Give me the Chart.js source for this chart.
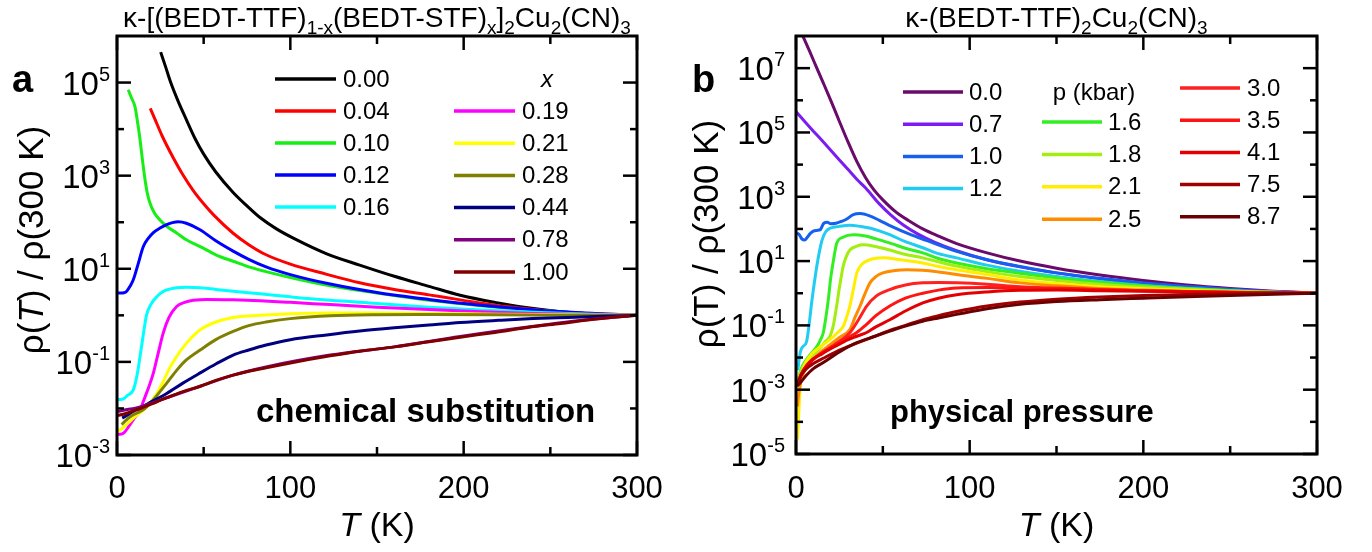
<!DOCTYPE html>
<html>
<head>
<meta charset="utf-8">
<script src="https://cdn.jsdelivr.net/npm/chart.js@4.4.0/dist/chart.umd.min.js"></script>
<style>
  html, body { margin: 0; padding: 0; background: #fff; }
  #wrap { position: relative; width: 1372px; height: 552px; overflow: hidden; }
  #wrap canvas { position: absolute; top: 0; }
</style>
</head>
<body>
<div id="wrap">
  <canvas id="chartA" width="690" height="552" style="left:0px"></canvas>
  <canvas id="chartB" width="682" height="552" style="left:690px"></canvas>
</div>
<script>
// ---------- panel a : chemical substitution, x ----------
var labelsA = ['0.00', '0.04', '0.10', '0.12', '0.16', '0.19', '0.21', '0.28', '0.44', '0.78', '1.00'];

var T_a000 = [25.2, 28, 31, 35, 40, 45, 50, 57, 67, 75, 82.5, 92, 102, 121, 140, 160, 180, 198, 218, 237, 256, 275, 300];
var R_a000 = [4.5e5, 2.2e5, 1.0e5, 4.2e4, 1.6e4, 6.3e3, 2.9e3, 1.2e3, 436, 224, 126, 72, 45, 21, 12, 6.9, 4.2, 2.7, 1.9, 1.45, 1.2, 1.07, 1];
var T_a004 = [19.2, 22, 26, 32.5, 38, 44, 50, 56, 67, 76, 86, 100, 121, 140, 160, 180, 198, 218, 237, 256, 275, 300];
var R_a004 = [2.8e4, 1.6e4, 7.2e3, 2.4e3, 1.05e3, 480, 250, 140, 58, 33, 20, 12.6, 7.6, 5.0, 3.6, 2.75, 2.15, 1.65, 1.38, 1.18, 1.07, 1];
var T_a010 = [6.5, 8, 10.4, 12, 13.3, 14.8, 16.2, 17.5, 19, 21.5, 24.8, 29, 34.4, 40, 48, 57, 67, 76, 86, 100, 123, 150, 180, 210, 240, 270, 300];
var R_a010 = [7e4, 5e4, 3e4, 1.3e4, 5.9e3, 2e3, 810, 420, 260, 160, 112, 80, 59, 42, 30, 20, 14.5, 11, 8.7, 6.5, 4.3, 3.0, 2.1, 1.6, 1.3, 1.1, 1];
var T_a012 = [0, 2, 4, 5.6, 7.5, 9.4, 12, 15.2, 18, 21, 24.8, 29, 32, 35.4, 40, 47.9, 57, 67, 76, 86, 100, 123, 150, 180, 210, 240, 270, 300];
var R_a012 = [3.0, 3.0, 3.05, 3.3, 4.2, 5.8, 12, 30, 45, 60, 75, 90, 98, 102, 95, 69, 40, 24, 16, 11, 7.5, 4.7, 3.1, 2.2, 1.65, 1.32, 1.12, 1];
var T_a016 = [0, 2, 3.6, 6, 9.4, 11.5, 13.3, 15, 17, 19.5, 22.9, 27, 34.4, 40, 48, 57, 67, 82.5, 100, 123, 150, 180, 210, 240, 270, 300];
var R_a016 = [0.0155, 0.0155, 0.016, 0.019, 0.025, 0.05, 0.13, 0.35, 1.0, 1.7, 2.5, 3.3, 3.9, 4.0, 3.9, 3.6, 3.3, 2.9, 2.5, 2.1, 1.8, 1.5, 1.3, 1.17, 1.07, 1];
var T_a019 = [0, 2, 4, 7, 10, 13.3, 16, 18.5, 21, 23.5, 26.7, 30, 34.4, 39, 44, 52, 67, 82.5, 100, 123, 150, 180, 210, 240, 270, 300];
var R_a019 = [0.0028, 0.0028, 0.003, 0.0042, 0.0062, 0.0093, 0.017, 0.03, 0.058, 0.14, 0.42, 0.9, 1.55, 1.9, 2.1, 2.2, 2.15, 2.05, 1.9, 1.7, 1.5, 1.33, 1.2, 1.1, 1.04, 1];
var T_a021 = [0, 2, 4, 8, 12, 15, 19, 23, 27, 30, 34.4, 40, 48, 57, 67, 82.5, 100, 123, 150, 180, 220, 260, 300];
var R_a021 = [0.0033, 0.0035, 0.004, 0.0055, 0.0075, 0.009, 0.013, 0.021, 0.04, 0.07, 0.13, 0.25, 0.49, 0.72, 0.9, 1.0, 1.08, 1.12, 1.12, 1.1, 1.06, 1.03, 1];
var T_a028 = [2.7, 5, 8, 11, 15, 20, 28.7, 35, 40, 48, 57, 67, 76, 86, 100, 123, 150, 180, 220, 260, 300];
var R_a028 = [0.0045, 0.0055, 0.0068, 0.0078, 0.0093, 0.014, 0.035, 0.07, 0.11, 0.18, 0.3, 0.45, 0.6, 0.72, 0.85, 0.98, 1.03, 1.04, 1.03, 1.01, 1];
var T_a044 = [3, 6, 10, 15, 20, 28.7, 38, 48, 57, 67, 76, 86, 100, 121, 140, 160, 180, 198, 220, 240, 260, 280, 300];
var R_a044 = [0.0062, 0.0072, 0.009, 0.011, 0.014, 0.021, 0.035, 0.058, 0.09, 0.14, 0.18, 0.23, 0.3, 0.38, 0.46, 0.54, 0.62, 0.7, 0.78, 0.85, 0.9, 0.95, 1];
var T_a078 = [0, 3, 6, 10, 15, 20, 28.7, 48, 67, 86, 123, 160, 198, 237, 275, 300];
var R_a078 = [0.0085, 0.009, 0.0095, 0.01, 0.0112, 0.013, 0.017, 0.03, 0.052, 0.078, 0.14, 0.21, 0.35, 0.56, 0.83, 1];
var T_a100 = [0, 3, 6, 10, 15, 20, 28.7, 38, 48, 57, 67, 76, 86, 100, 123, 140, 160, 180, 198, 218, 237, 256, 275, 300];
var R_a100 = [0.007, 0.0074, 0.008, 0.009, 0.0105, 0.0125, 0.017, 0.023, 0.03, 0.04, 0.052, 0.063, 0.075, 0.095, 0.135, 0.17, 0.21, 0.27, 0.34, 0.43, 0.55, 0.67, 0.82, 1];

// ---------- panel b : physical pressure, p (kbar) ----------
var labelsB = ['0.0', '0.7', '1.0', '1.2', '1.6', '1.8', '2.1', '2.5', '3.0', '3.5', '4.1', '7.5', '8.7'];

var T_b00 = [3.5, 8, 12, 16, 20, 25, 30, 35, 40, 45, 50, 58, 65, 73, 82, 92.5, 110, 129, 150, 175, 200, 225, 250, 275, 300];
var R_b00 = [1.12e8, 3.2e7, 1e7, 3.2e6, 1e6, 2.2e5, 5e4, 1.26e4, 4e3, 1.6e3, 800, 320, 180, 100, 60, 35, 18, 10, 6, 3.7, 2.5, 1.8, 1.4, 1.15, 1];
var T_b07 = [0, 5, 10, 15, 20, 25, 30, 35, 40, 48, 55, 62, 70, 80, 92.5, 110, 129, 150, 175, 200, 225, 250, 275, 300];
var R_b07 = [4.4e5, 2.2e5, 1.1e5, 5.6e4, 2.8e4, 1.4e4, 7e3, 3.5e3, 1.9e3, 600, 260, 130, 70, 38, 21, 11, 6.6, 4.3, 2.8, 2.0, 1.6, 1.3, 1.12, 1];
var T_b10 = [0.5, 2, 3.5, 5, 6.5, 8, 10, 12, 14, 16, 18, 20, 23, 26, 29, 33, 37, 42, 48, 55, 65, 75, 92.5, 110, 129, 150, 175, 200, 230, 260, 300];
var R_b10 = [75, 65, 48, 45, 55, 70, 85, 90, 95, 150, 160, 145, 150, 170, 200, 280, 300, 260, 185, 120, 70, 44, 20, 11, 6.8, 4.3, 2.9, 2.1, 1.55, 1.22, 1];
var T_b12 = [1, 2.5, 4, 6, 7.5, 9, 10.5, 12, 13.5, 15, 17, 19.6, 25, 31, 37, 43, 54, 63, 73, 82, 92.5, 110, 129, 150, 175, 200, 230, 260, 300];
var R_b12 = [0.004, 0.015, 0.022, 0.03, 0.1, 0.5, 2, 7, 20, 45, 80, 105, 120, 130, 120, 105, 66, 40, 26, 17, 12.6, 7.5, 4.8, 3.3, 2.3, 1.75, 1.38, 1.15, 1];
var T_b16 = [1, 3, 6, 9, 12, 14, 15.7, 17, 18.6, 20, 21.5, 23.4, 27, 33, 40, 46.5, 55, 63, 73, 82, 92.5, 110, 129, 150, 175, 200, 230, 260, 300];
var R_b16 = [0.0018, 0.0045, 0.0087, 0.014, 0.022, 0.035, 0.059, 0.15, 0.63, 3, 10, 35, 55, 66, 60, 48, 35, 25, 18, 12, 8.7, 5.8, 4.2, 3.0, 2.2, 1.7, 1.35, 1.14, 1];
var T_b18 = [1, 3, 6, 10, 14, 17, 19.6, 21.5, 23.4, 25, 27.2, 29, 31, 35, 38.7, 45, 54, 63, 73, 82, 92.5, 110, 129, 150, 175, 200, 230, 260, 300];
var R_b18 = [0.0016, 0.004, 0.0075, 0.012, 0.02, 0.032, 0.046, 0.1, 0.4, 1.5, 7, 14, 22, 29, 32, 29, 22, 16, 12.6, 9.5, 7, 4.7, 3.3, 2.5, 1.9, 1.55, 1.3, 1.12, 1];
var T_b21 = [0.8, 1.5, 2.3, 4, 8, 13, 19.6, 24, 27.2, 29, 31, 33, 35, 38, 40.7, 45, 50, 60, 73, 82, 92.5, 110, 129, 150, 175, 200, 230, 260, 300];
var R_b21 = [2.8e-5, 1.5e-4, 0.001, 0.004, 0.011, 0.02, 0.036, 0.06, 0.094, 0.17, 0.4, 1.3, 4.3, 8, 10, 12, 12.6, 11, 8.7, 6.8, 5.4, 3.8, 2.6, 2.0, 1.6, 1.38, 1.2, 1.08, 1];
var T_b25 = [0.8, 1.5, 2.5, 5, 10, 15, 19.6, 25, 31, 34, 36.9, 39.5, 42.6, 46, 50, 57, 63.7, 73, 82, 92.5, 110, 129, 150, 175, 200, 230, 260, 300];
var R_b25 = [3e-4, 7e-4, 0.0015, 0.004, 0.009, 0.016, 0.025, 0.042, 0.074, 0.18, 0.4, 0.9, 2.1, 3.3, 4.3, 5.1, 5.4, 5.2, 4.6, 3.8, 2.9, 2.1, 1.7, 1.4, 1.25, 1.13, 1.05, 1];
var T_b30 = [1, 3, 6, 10, 15, 20, 25, 31, 36, 40.7, 46, 54, 63, 73, 82, 92.5, 110, 129, 150, 175, 200, 230, 260, 300];
var R_b30 = [0.0015, 0.003, 0.0055, 0.009, 0.014, 0.021, 0.032, 0.059, 0.15, 0.4, 0.8, 1.3, 1.8, 2.1, 2.15, 2.1, 1.9, 1.6, 1.45, 1.3, 1.2, 1.12, 1.05, 1];
var T_b35 = [1, 3, 6, 10, 15, 20, 25, 30, 35, 40, 46, 54, 63, 73, 82, 92.5, 110, 129, 150, 175, 200, 230, 260, 300];
var R_b35 = [0.0015, 0.003, 0.0055, 0.009, 0.014, 0.02, 0.029, 0.042, 0.06, 0.1, 0.2, 0.4, 0.7, 1.0, 1.25, 1.45, 1.5, 1.45, 1.38, 1.28, 1.2, 1.12, 1.05, 1];
var T_b41 = [1, 3, 6, 10, 15, 20, 25, 30, 35, 40.7, 46, 54, 63, 73, 82, 92.5, 110, 129, 150, 175, 200, 230, 260, 300];
var R_b41 = [0.0015, 0.003, 0.0055, 0.009, 0.013, 0.019, 0.026, 0.036, 0.046, 0.06, 0.09, 0.15, 0.28, 0.5, 0.7, 0.9, 1.1, 1.23, 1.25, 1.2, 1.15, 1.1, 1.04, 1];
var T_b75 = [0.5, 3, 6, 10, 15.7, 25, 35, 45, 54, 63, 73, 82, 92.5, 110, 129, 150, 175, 200, 230, 260, 300];
var R_b75 = [0.0014, 0.0028, 0.0045, 0.0065, 0.0095, 0.017, 0.028, 0.045, 0.07, 0.1, 0.15, 0.2, 0.27, 0.4, 0.53, 0.65, 0.76, 0.85, 0.93, 0.97, 1];
var T_b87 = [0.5, 2.3, 6, 10, 15.7, 25, 35, 45, 54, 63, 73, 82, 92.5, 110, 129, 150, 175, 200, 230, 260, 300];
var R_b87 = [0.0013, 0.0016, 0.0028, 0.0045, 0.007, 0.015, 0.029, 0.045, 0.066, 0.095, 0.135, 0.17, 0.22, 0.33, 0.45, 0.55, 0.63, 0.7, 0.79, 0.88, 1];

// axis ticks
var xMajor = [0, 100, 200, 300];
var xMinor = [50, 150, 250];
var yMajorA = [1e-3, 1e-1, 1e1, 1e3, 1e5];
var yMinorA = [1e-2, 1e0, 1e2, 1e4];
var yMajorB = [1e-5, 1e-3, 1e-1, 1e1, 1e3, 1e5, 1e7];
var yMinorB = [1e-4, 1e-2, 1e0, 1e2, 1e4, 1e6];

var colorsA = ['#000000', '#ff0000', '#16ee16', '#0000ff', '#00ffff', '#ff00ff', '#ffff00', '#808000', '#000080', '#800080', '#800000'];
var colorsB = ['#6a0a6a', '#7b1cf0', '#1560ee', '#20ccf2', '#33ee22', '#a2ee10', '#ffee00', '#ff8c00', '#ff2020', '#ff1414', '#e20000', '#a20000', '#6a0000'];

var seriesA = [
  [T_a000, R_a000], [T_a004, R_a004], [T_a010, R_a010], [T_a012, R_a012], [T_a016, R_a016],
  [T_a019, R_a019], [T_a021, R_a021], [T_a028, R_a028], [T_a044, R_a044], [T_a078, R_a078], [T_a100, R_a100]
];
var seriesB = [
  [T_b00, R_b00], [T_b07, R_b07], [T_b10, R_b10], [T_b12, R_b12], [T_b16, R_b16], [T_b18, R_b18],
  [T_b21, R_b21], [T_b25, R_b25], [T_b30, R_b30], [T_b35, R_b35], [T_b41, R_b41], [T_b75, R_b75], [T_b87, R_b87]
];

var FONT = "'Liberation Sans', Arial, Helvetica, sans-serif";
function fnt(size, style) {
  return (style ? style + ' ' : '') + size + 'px ' + FONT;
}

function drawRich(ctx, segs, x, y, align) {
  var w = 0;
  segs.forEach(function (s) { ctx.font = s.font; w += ctx.measureText(s.t).width; });
  var cx = align === 'center' ? x - w / 2 : (align === 'right' ? x - w : x);
  ctx.textAlign = 'left';
  ctx.textBaseline = 'alphabetic';
  segs.forEach(function (s) {
    ctx.font = s.font;
    ctx.fillText(s.t, cx, y + (s.dy || 0));
    cx += ctx.measureText(s.t).width;
  });
}

function line(ctx, x1, y1, x2, y2) {
  ctx.beginPath();
  ctx.moveTo(x1, y1);
  ctx.lineTo(x2, y2);
  ctx.stroke();
}

// draws the frame, inward ticks, labels, titles and legend
var framePlugin = {
  id: 'frame',
  afterDraw: function (chart, args, o) {
    var ctx = chart.ctx, a = chart.chartArea;
    var xs = chart.scales.x, ys = chart.scales.y;
    ctx.save();
    ctx.strokeStyle = '#000';
    ctx.fillStyle = '#000';
    ctx.lineCap = 'butt';

    // ticks
    ctx.lineWidth = 2.5;
    xMajor.forEach(function (v) {
      var p = xs.getPixelForValue(v);
      line(ctx, p, a.bottom, p, a.bottom - 14);
      line(ctx, p, a.top, p, a.top + 14);
    });
    xMinor.forEach(function (v) {
      var p = xs.getPixelForValue(v);
      line(ctx, p, a.bottom, p, a.bottom - 8);
      line(ctx, p, a.top, p, a.top + 8);
    });
    o.yMajor.forEach(function (v) {
      var p = ys.getPixelForValue(v);
      line(ctx, a.left, p, a.left + 14, p);
      line(ctx, a.right, p, a.right - 14, p);
    });
    o.yMinor.forEach(function (v) {
      var p = ys.getPixelForValue(v);
      line(ctx, a.left, p, a.left + 7, p);
      line(ctx, a.right, p, a.right - 7, p);
    });

    // frame
    ctx.lineWidth = 3;
    ctx.strokeRect(a.left, a.top, a.right - a.left, a.bottom - a.top);

    // x tick labels
    ctx.font = fnt(31);
    ctx.textAlign = 'center';
    ctx.textBaseline = 'alphabetic';
    xMajor.forEach(function (v) {
      ctx.fillText(String(v), xs.getPixelForValue(v), 498);
    });

    // y tick labels 10^n
    o.yMajor.forEach(function (v) {
      var p = ys.getPixelForValue(v);
      var e = Math.round(Math.log10(v));
      drawRich(ctx, [
        { t: '10', font: fnt(33) },
        { t: String(e), font: fnt(20), dy: -14 }
      ], a.left - o.labelGap, p + 12, 'right');
    });

    // axis titles
    var cx = (a.left + a.right) / 2;
    drawRich(ctx, [
      { t: 'T', font: fnt(34, 'italic') },
      { t: ' (K)', font: fnt(34) }
    ], cx, 536, 'center');

    ctx.save();
    ctx.translate(o.yTitleX, o.yTitleY);
    ctx.rotate(-Math.PI / 2);
    drawRich(ctx, [
      { t: 'ρ(', font: fnt(35) },
      { t: 'T', font: fnt(35, o.italicT ? 'italic' : '') },
      { t: ') / ρ(300 K)', font: fnt(35) }
    ], 0, 0, 'center');
    ctx.restore();

    // panel title
    drawRich(ctx, o.title, cx, 27, 'center');

    // panel letter
    ctx.font = fnt(38, 'bold');
    ctx.textAlign = 'left';
    ctx.fillText(o.letter, o.letterX, 92);

    // annotation
    ctx.font = fnt(o.noteSize, 'bold');
    ctx.textAlign = 'left';
    ctx.fillText(o.note, o.noteX, 422);

    // legend
    ctx.lineWidth = 3.5;
    ctx.font = fnt(24);
    ctx.textBaseline = 'middle';
    o.legend.forEach(function (g) {
      if (g.header) {
        drawRich(ctx, g.header, g.hx, g.hy + 8, 'center');
        ctx.font = fnt(24);
        ctx.textBaseline = 'middle';
      }
      g.items.forEach(function (idx, k) {
        var ds = chart.data.datasets[idx];
        var y = g.y0 + k * g.dy;
        ctx.strokeStyle = ds.borderColor;
        line(ctx, g.x1, y, g.x2, y);
        ctx.fillStyle = '#000';
        ctx.textAlign = 'left';
        ctx.fillText(ds.label, g.tx, y + 1);
      });
    });
    ctx.restore();
  }
};

function makePanel(id, labels, colors, series, ymin, ymax, pad, frameOpts) {
  var n = series.length;
  var datasets = series.map(function (s, i) {
    return {
      label: labels[i],
      data: s[0].map(function (t, k) { return { x: t, y: s[1][k] }; }),
      borderColor: colors[i],
      backgroundColor: colors[i],
      borderWidth: 3,
      pointRadius: 0,
      fill: false,
      cubicInterpolationMode: 'monotone',
      order: n - i
    };
  });
  return new Chart(document.getElementById(id), {
    type: 'line',
    data: { datasets: datasets },
    options: {
      responsive: false,
      animation: false,
      events: [],
      layout: { padding: pad },
      scales: {
        x: { type: 'linear', min: 0, max: 300, display: false },
        y: { type: 'logarithmic', min: ymin, max: ymax, display: false }
      },
      plugins: {
        legend: { display: false },
        tooltip: { enabled: false },
        frame: frameOpts
      }
    },
    plugins: [framePlugin]
  });
}

var tMain = fnt(28), tSub = fnt(19);

makePanel('chartA', labelsA, colorsA, seriesA, 1e-3, 1e6,
  { left: 117, top: 36, right: 53, bottom: 97 },
  {
    yMajor: yMajorA, yMinor: yMinorA, labelGap: 7,
    yTitleX: 43, yTitleY: 240, italicT: true,
    letter: 'a', letterX: 12,
    note: 'chemical substitution', noteX: 256, noteSize: 33,
    title: [
      { t: 'κ-[(BEDT-TTF)', font: tMain }, { t: '1-x', font: tSub, dy: 7 },
      { t: '(BEDT-STF)', font: tMain }, { t: 'x', font: tSub, dy: 7 },
      { t: ']', font: tMain }, { t: '2', font: tSub, dy: 7 },
      { t: 'Cu', font: tMain }, { t: '2', font: tSub, dy: 7 },
      { t: '(CN)', font: tMain }, { t: '3', font: tSub, dy: 7 }
    ],
    legend: [
      { items: [0, 1, 2, 3, 4], x1: 275, x2: 336, tx: 343, y0: 79, dy: 32 },
      { header: [{ t: 'x', font: fnt(24, 'italic') }], hx: 547, hy: 79,
        items: [5, 6, 7, 8, 9, 10], x1: 454, x2: 515, tx: 522, y0: 111, dy: 32.2 }
    ]
  });

makePanel('chartB', labelsB, colorsB, seriesB, 1e-5, 1e8,
  { left: 106, top: 36, right: 55, bottom: 98 },
  {
    yMajor: yMajorB, yMinor: yMinorB, labelGap: 11,
    yTitleX: 28, yTitleY: 234, italicT: false,
    letter: 'b', letterX: 2,
    note: 'physical pressure', noteX: 200, noteSize: 31,
    title: [
      { t: 'κ-(BEDT-TTF)', font: tMain }, { t: '2', font: tSub, dy: 7 },
      { t: 'Cu', font: tMain }, { t: '2', font: tSub, dy: 7 },
      { t: '(CN)', font: tMain }, { t: '3', font: tSub, dy: 7 }
    ],
    legend: [
      { items: [0, 1, 2, 3], x1: 213, x2: 273, tx: 279, y0: 92, dy: 32.2 },
      { header: [{ t: 'p (kbar)', font: fnt(24) }], hx: 404, hy: 92,
        items: [4, 5, 6, 7], x1: 352, x2: 412, tx: 418, y0: 122, dy: 32.4 },
      { items: [8, 9, 10, 11, 12], x1: 490, x2: 550, tx: 557, y0: 88, dy: 32.2 }
    ]
  });
</script>
</body>
</html>
